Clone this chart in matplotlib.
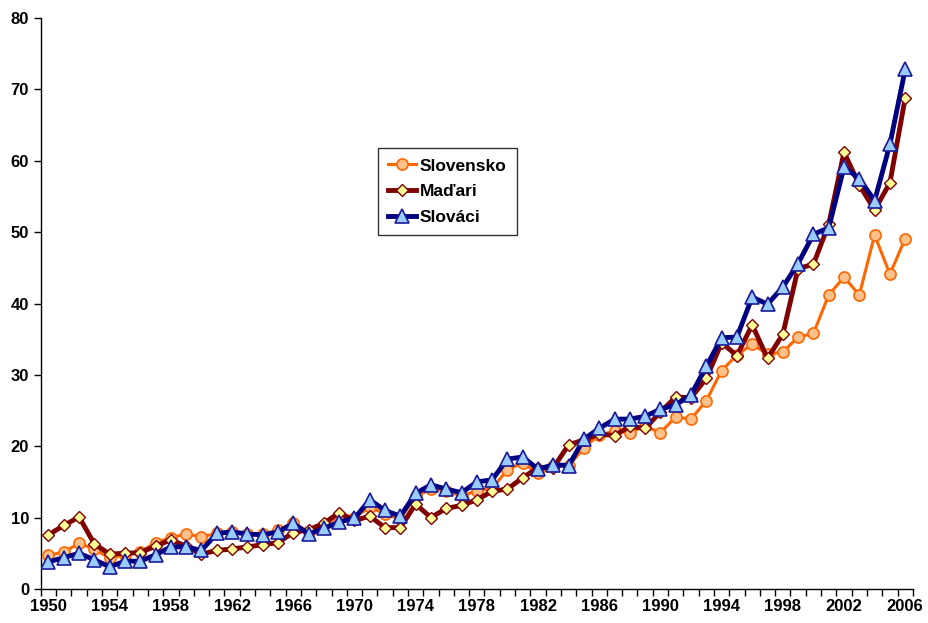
import numpy as np
import matplotlib
matplotlib.use('Agg')
import matplotlib.pyplot as plt

plt.rcParams['font.family'] = ['Liberation Sans', 'DejaVu Sans']
plt.rcParams['font.weight'] = 'bold'

##Data
years = list(range(1950, 2007))

slovensko = [4.7, 5.2, 6.4, 5.6, 4.3, 4.8, 5.2, 6.5, 7.2, 7.7,
             7.3, 7.8, 8.0, 7.7, 7.7, 8.2, 9.3, 8.0, 9.0, 10.2,
             10.0, 11.5, 10.5, 9.8, 13.0, 14.0, 13.8, 13.0, 13.8, 14.1,
             16.7, 17.7, 16.2, 17.2, 17.2, 19.8, 21.6, 22.1, 21.9, 22.8,
             21.9, 24.1, 23.8, 26.4, 30.6, 32.8, 34.3, 32.9, 33.2, 35.3,
             35.8, 41.2, 43.7, 41.2, 49.6, 44.1, 49.1]

madari = [7.6, 8.9, 10.1, 6.3, 4.9, 5.0, 5.1, 6.0, 6.9, 6.0,
          4.9, 5.4, 5.6, 5.9, 6.2, 6.5, 7.9, 8.3, 9.2, 10.7,
          9.6, 10.2, 8.6, 8.6, 11.9, 10.0, 11.3, 11.7, 12.5, 13.7,
          14.0, 15.6, 17.0, 17.0, 20.2, 20.9, 21.7, 21.5, 22.8, 22.5,
          24.8, 26.9, 26.8, 29.5, 34.5, 32.7, 37.0, 32.3, 35.7, 44.9,
          45.5, 51.1, 61.2, 56.6, 53.1, 56.9, 68.8]

slovaci = [3.8, 4.4, 5.0, 4.1, 3.1, 3.9, 3.9, 4.8, 5.9, 5.9,
           5.4, 7.8, 8.0, 7.7, 7.6, 8.0, 9.2, 7.7, 8.5, 9.4,
           9.9, 12.5, 11.0, 10.2, 13.4, 14.6, 14.0, 13.5, 15.0, 15.3,
           18.2, 18.5, 16.8, 17.4, 17.3, 21.0, 22.5, 23.8, 23.8, 24.2,
           25.2, 25.8, 27.2, 31.2, 35.2, 35.3, 40.9, 39.9, 42.3, 45.6,
           49.7, 50.6, 59.1, 57.5, 54.4, 62.3, 72.8]

fig = plt.figure(figsize=(9.29, 6.23), dpi=100)
ax = fig.add_axes([40.85 / 929, 34 / 623, 872 / 929, 571 / 623])

ax.plot(years, slovensko, color='#FF6600', lw=2.2, marker='o', ms=8,
        mfc='#FFC08A', mec='#FF6600', mew=1.2, label='Slovensko', zorder=3)
ax.plot(years, madari, color='#800000', lw=3.5, marker='D', ms=6,
        mfc='#FFFF99', mec='#800000', mew=1.0, label='Maďari', zorder=4)
ax.plot(years, slovaci, color='#000080', lw=3.5, marker='^', ms=10,
        mfc='#99CCFF', mec='#1A1A99', mew=1.2, label='Slováci', zorder=5)

ax.set_xlim(1949.5, 2006.5)
ax.set_ylim(0, 80)
ax.set_yticks(range(0, 81, 10))
ax.set_xticks(range(1950, 2007, 4))
ax.set_xticks(np.arange(1949.5, 2007, 1), minor=True)
ax.tick_params(axis='x', which='major', length=0, pad=7, labelsize=12)
ax.tick_params(axis='x', which='minor', length=5, width=1)
ax.tick_params(axis='y', length=5, width=1, labelsize=12)
for s in ['top', 'right']:
    ax.spines[s].set_visible(False)
for s in ['left', 'bottom']:
    ax.spines[s].set_linewidth(1)

leg = fig.legend(loc='upper left', bbox_to_anchor=(378 / 929, 1 - 148 / 623),
                 fancybox=False, edgecolor='black', fontsize=12.5,
                 handlelength=1.6, borderpad=0.6, labelspacing=0.6,
                 handletextpad=0.2, borderaxespad=0)
leg.get_frame().set_linewidth(1)

fig.savefig('out.png', dpi=100)
